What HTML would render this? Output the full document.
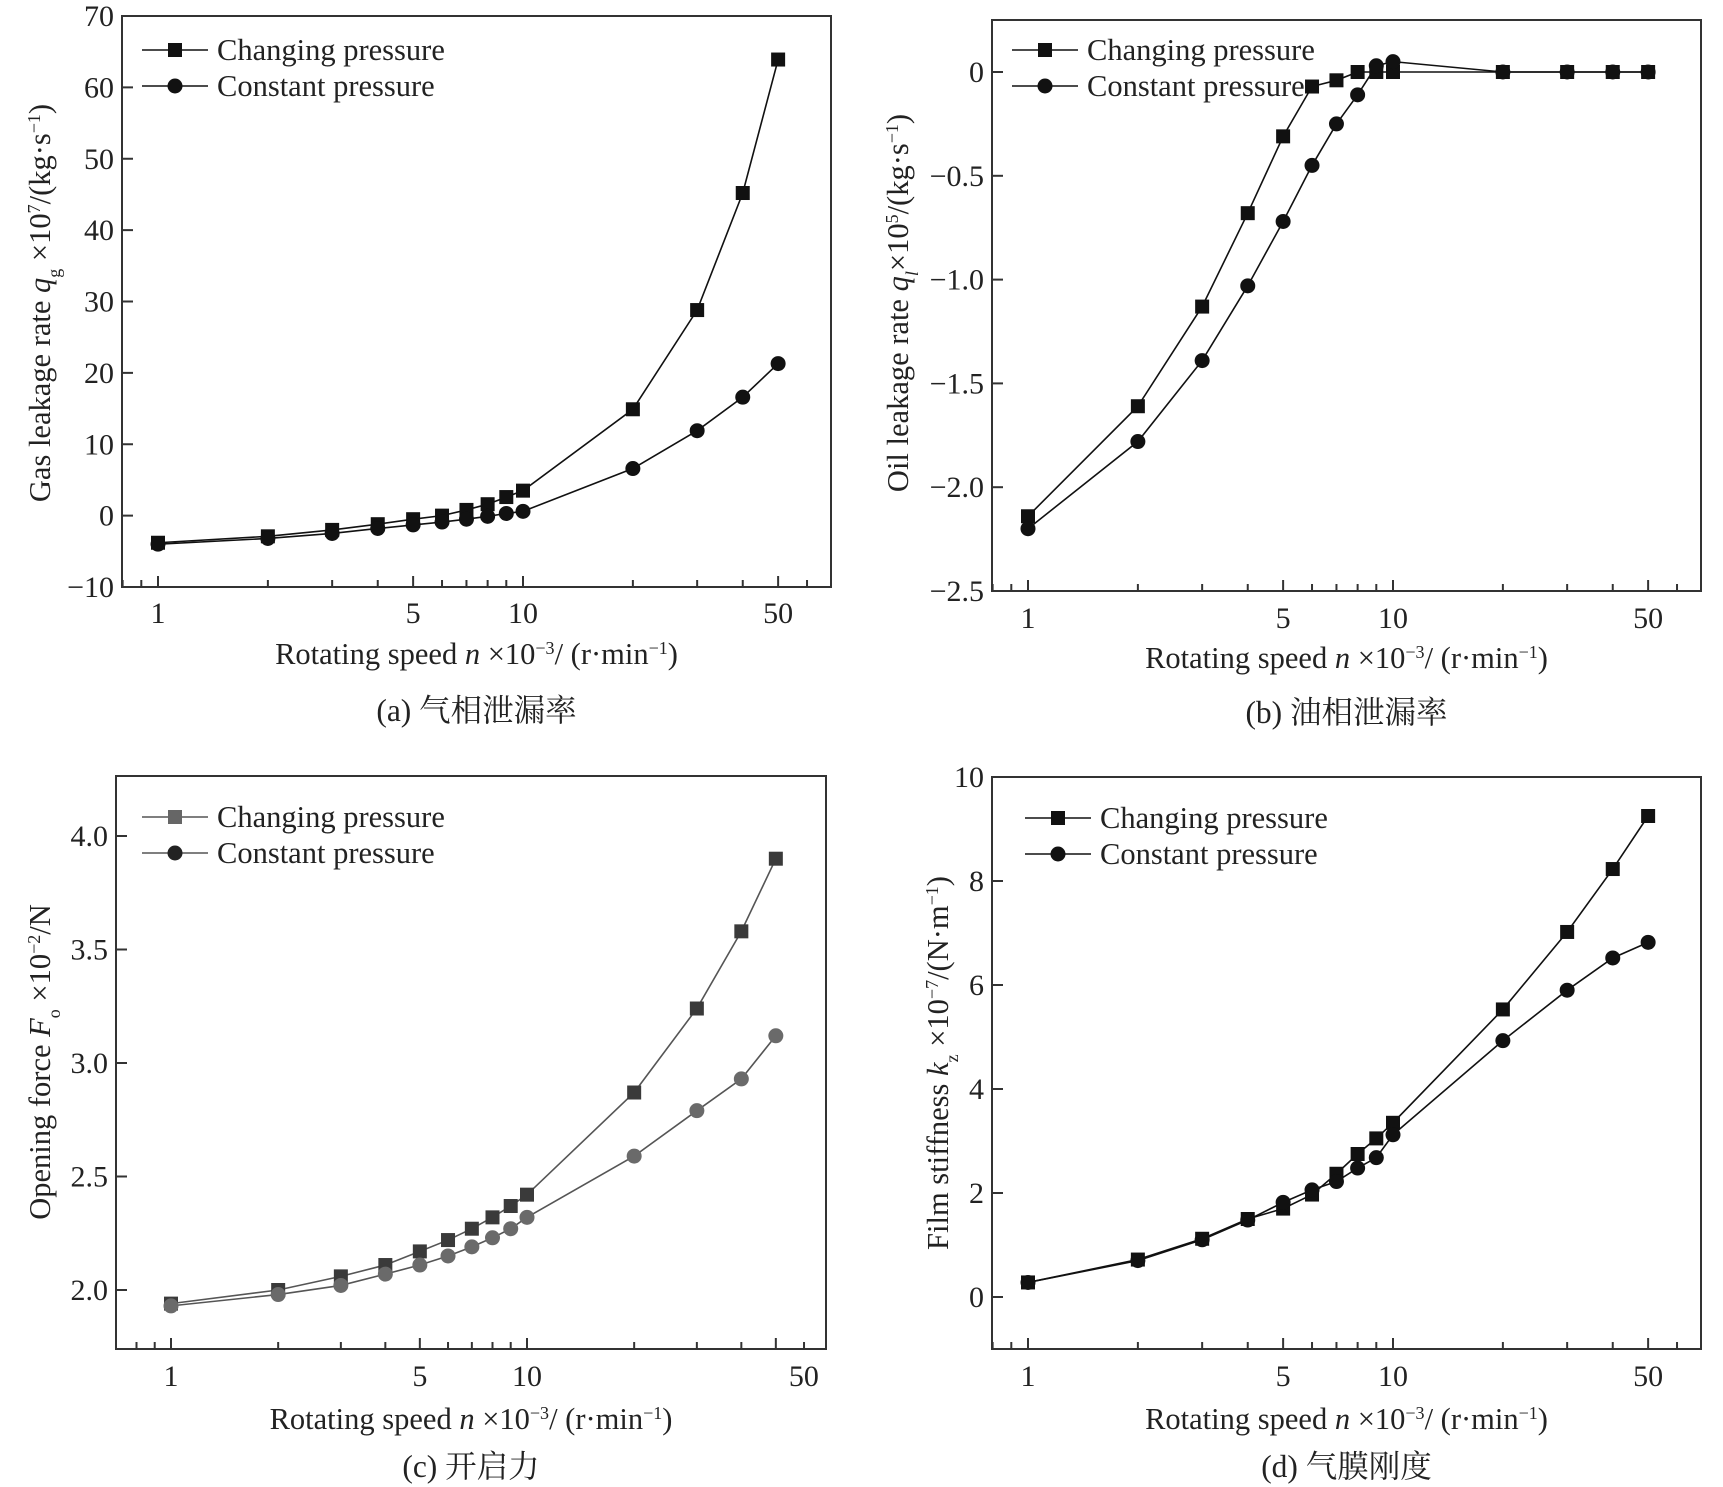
<!DOCTYPE html>
<html><head><meta charset="utf-8"><style>
html,body{margin:0;padding:0;background:#fff;}
svg{display:block;font-family:"Liberation Serif","Noto Serif CJK SC",serif;}
</style></head><body>
<svg id="fig" width="1723" height="1487" viewBox="0 0 1723 1487" xmlns="http://www.w3.org/2000/svg"></svg>
<script>
const speeds = [1,2,3,4,5,6,7,8,9,10,20,30,40,50];
const gasChanging = [-3.8,-2.9,-2.0,-1.2,-0.5,0,0.8,1.6,2.6,3.5,14.9,28.8,45.2,63.9];
const gasConstant = [-4.0,-3.2,-2.5,-1.8,-1.3,-0.9,-0.5,-0.1,0.3,0.6,6.6,11.9,16.6,21.3];
const oilChanging = [-2.14,-1.61,-1.13,-0.68,-0.31,-0.07,-0.04,0,0,0,0,0,0,0];
const oilConstant = [-2.2,-1.78,-1.39,-1.03,-0.72,-0.45,-0.25,-0.11,0.03,0.05,0,0,0,0];
const forceChanging = [1.94,2.00,2.06,2.11,2.17,2.22,2.27,2.32,2.37,2.42,2.87,3.24,3.58,3.90];
const forceConstant = [1.93,1.98,2.02,2.07,2.11,2.15,2.19,2.23,2.27,2.32,2.59,2.79,2.93,3.12];
const stiffChanging = [0.28,0.72,1.12,1.5,1.7,1.97,2.37,2.75,3.05,3.35,5.53,7.02,8.23,9.25];
const stiffConstant = [0.28,0.70,1.10,1.48,1.82,2.06,2.22,2.48,2.68,3.12,4.93,5.9,6.52,6.82];
const gasTicks = [-10,0,10,20,30,40,50,60,70];
const oilTicks = [0,-0.5,-1.0,-1.5,-2.0,-2.5];
const forceTicks = [2.0,2.5,3.0,3.5,4.0];
const stiffTicks = [0,2,4,6,8,10];
const xTickLabels = [1,5,10,50];
const xMinorTicks = [0.8,0.9,1,2,3,4,5,6,7,8,9,10,20,30,40,50,60];

const NS="http://www.w3.org/2000/svg";
const svg=document.getElementById('fig');
function mk(tag,attrs,parent){const e=document.createElementNS(NS,tag);for(const k in attrs)e.setAttribute(k,attrs[k]);(parent||svg).appendChild(e);return e;}
function fmt(v,dec){if(v===0)return '0';let s=v.toFixed(dec);return s.replace('-','\u2212');}

const panels=[
 {id:'a',L:122,R:831,T:16,B:587,x1:158,dec:365,y0v:70,y0p:16,y1v:-10,y1p:587,ticks:gasTicks,dec2:0,ch:gasChanging,co:gasConstant,
  ytitle:[['Gas leakage rate ',0],['q','i'],['g','sub'],[' \u00D710',0],['7','sup'],['/(kg\u00B7s',0],['\u22121','sup'],[')',0]],ytx:40,yty:303,
  xly:613,xty:654,cap:'(a) 气相泄漏率',capy:710,legx:142,legy:50,lab50:0,chCol:'#111',coCol:'#111',lnCol:'#111'},
 {id:'b',L:992,R:1701,T:20,B:591,x1:1028,dec:365,y0v:0,y0p:72,y1v:-2.5,y1p:591,ticks:oilTicks,dec2:1,ch:oilChanging,co:oilConstant,
  ytitle:[['Oil leakage rate ',0],['q','i'],['l','subi'],['\u00D710',0],['5','sup'],['/(kg\u00B7s',0],['\u22121','sup'],[')',0]],ytx:898,yty:303,
  xly:618,xty:658,cap:'(b) 油相泄漏率',capy:712,legx:1012,legy:50,lab50:0,chCol:'#111',coCol:'#111',lnCol:'#111'},
 {id:'c',L:116,R:826,T:776,B:1349,x1:171,dec:356,y0v:4.0,y0p:836,y1v:2.0,y1p:1290,ticks:forceTicks,dec2:1,ch:forceChanging,co:forceConstant,
  ytitle:[['Opening force ',0],['F','i'],['o','sub'],[' \u00D710',0],['\u22122','sup'],['/N',0]],ytx:40,yty:1062,
  xly:1376,xty:1419,cap:'(c) 开启力',capy:1466,legx:142,legy:817,lab50:28,chCol:'#3a3a3a',coCol:'#6a6a6a',lnCol:'#555',legChCol:'#666',legCoCol:'#222'},
 {id:'d',L:992,R:1701,T:777,B:1349,x1:1028,dec:365,y0v:10,y0p:777,y1v:0,y1p:1297,ticks:stiffTicks,dec2:0,ch:stiffChanging,co:stiffConstant,
  ytitle:[['Film stiffness ',0],['k','i'],['z','sub'],[' \u00D710',0],['\u22127','sup'],['/(N\u00B7m',0],['\u22121','sup'],[')',0]],ytx:938,yty:1063,
  xly:1376,xty:1419,cap:'(d) 气膜刚度',capy:1466,legx:1025,legy:818,lab50:0,chCol:'#111',coCol:'#111',lnCol:'#111'}
];

panels.forEach(p=>{
  const g=mk('g',{});
  
  
  const xs=v=>p.x1+Math.log10(v)*p.dec;
  const ys=v=>p.y0p+(v-p.y0v)*(p.y1p-p.y0p)/(p.y1v-p.y0v);
  const frame=mk('rect',{x:p.L,y:p.T,width:p.R-p.L,height:p.B-p.T,fill:'none',stroke:'#333','stroke-width':2},g);
  
  
  p.ticks.forEach(t=>{
    const y=ys(t);
    mk('line',{x1:p.L,x2:p.L+11,y1:y,y2:y,stroke:'#333','stroke-width':2},g);
    const tx=mk('text',{x:p.L-8,y:y+10,'text-anchor':'end','font-size':30,fill:'#222'},g);
    tx.textContent=fmt(t,p.dec2);
    
    
  });
  xMinorTicks.forEach(t=>{
    const x=xs(t);
    const major=xTickLabels.indexOf(t)>=0;
    mk('line',{x1:x,x2:x,y1:p.B,y2:p.B-(major?11:7),stroke:'#333','stroke-width':2},g);
  });
  xTickLabels.forEach(t=>{
    const x=xs(t)+(t===50?p.lab50:0);
    const tx=mk('text',{x:x,y:p.xly+10,'text-anchor':'middle','font-size':30,fill:'#222'},g);
    tx.textContent=String(t);
    
    
  });
  const drawSeries=(vals,col,shape,name)=>{
    const sg=mk('g',{},g);
    
    
    const pts=speeds.map((s,i)=>xs(s)+','+ys(vals[i])).join(' ');
    mk('polyline',{points:pts,fill:'none',stroke:p.lnCol,'stroke-width':1.6},sg);
    speeds.forEach((s,i)=>{
      const x=xs(s),y=ys(vals[i]);
      let m;
      if(shape==='sq') m=mk('rect',{x:x-7,y:y-7,width:14,height:14,fill:col},sg);
      else m=mk('circle',{cx:x,cy:y,r:7.5,fill:col},sg);
      
      
    });
  };
  drawSeries(p.ch,p.chCol,'sq','changing-pressure-series');
  drawSeries(p.co,p.coCol,'ci','constant-pressure-series');
  const lg=mk('g',{},g);
  
  
  [['Changing pressure','sq',p.legChCol||p.chCol],['Constant pressure','ci',p.legCoCol||p.coCol]].forEach((e,i)=>{
    const y=p.legy+i*36;
    const eg=mk('g',{},lg);
    
    
    mk('line',{x1:p.legx,x2:p.legx+66,y1:y,y2:y,stroke:p.lnCol,'stroke-width':1.6},eg);
    if(e[1]==='sq') mk('rect',{x:p.legx+26,y:y-7,width:14,height:14,fill:e[2]},eg);
    else mk('circle',{cx:p.legx+33,cy:y,r:7.5,fill:e[2]},eg);
    const t=mk('text',{x:p.legx+75,y:y+10,'font-size':30.5,fill:'#222'},eg);
    t.textContent=e[0];
  });
  const xt=mk('text',{x:(p.L+p.R)/2,y:p.xty+10,'text-anchor':'middle','font-size':30.5,fill:'#222'},g);
  
  
  [['Rotating speed ',0],['n','i'],[' \u00D710',0],['\u22123','sup'],['/ (r\u00B7min',0],['\u22121','sup'],[')',0]].forEach(s=>addSpan(xt,s));
  const yt=mk('text',{x:0,y:0,'text-anchor':'middle','font-size':30.5,fill:'#222',transform:'translate('+(p.ytx+10)+','+p.yty+') rotate(-90)'},g);
  
  
  p.ytitle.forEach(s=>addSpan(yt,s));
  const cp=mk('text',{x:(p.L+p.R)/2,y:p.capy+11,'text-anchor':'middle','font-size':31.5,fill:'#222'},g);
  cp.textContent=p.cap;
  
  
});
function addSpan(t,s){
  const sp=document.createElementNS(NS,'tspan');
  sp.textContent=s[0];
  if(s[1]==='i'){sp.setAttribute('font-style','italic');}
  if(s[1]==='sup'){sp.setAttribute('baseline-shift','super');sp.setAttribute('font-size','18');}
  if(s[1]==='sub'){sp.setAttribute('baseline-shift','sub');sp.setAttribute('font-size','18');}
  if(s[1]==='subi'){sp.setAttribute('baseline-shift','sub');sp.setAttribute('font-size','18');sp.setAttribute('font-style','italic');}
  t.appendChild(sp);
}
</script>
</body></html>
